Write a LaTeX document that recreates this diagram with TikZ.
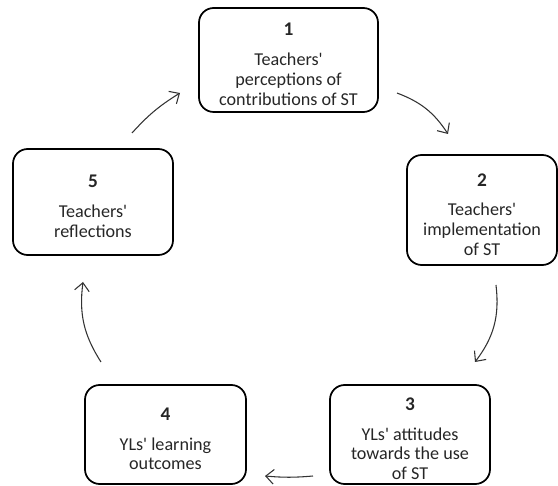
\documentclass[tikz,border=0pt]{standalone}
\usepackage{fontspec}
\setmainfont{Carlito}
\usetikzlibrary{arrows.meta}
\newcommand{\ap}{\textquotesingle}
\newcommand{\stagenum}[1]{\rule{0pt}{16pt}{\bfseries\fontsize{14.5}{15}\selectfont #1}}
\begin{document}
\begin{tikzpicture}[x=0.75pt,y=0.75pt,
  stagebox/.style={draw=black, line width=1.3pt, rounded corners=11pt, align=center,
    inner sep=0pt, text=black!85, font=\fontsize{13.6}{14.8}\selectfont},
  cyclearrow/.style={draw=black!80, line width=0.8pt, -{Straight Barb[length=6pt,width=11pt,line width=0.8pt]}}
]
\useasboundingbox (0,0) rectangle (558,486);
\node[stagebox, minimum width=134.25pt, minimum height=78pt] (s1) at (288.5,426)
  {\stagenum{1}\\[7.5pt]Teachers\ap\\perceptions of\\contributions of ST};
\node[stagebox, minimum width=112.5pt, minimum height=82.5pt] (s2) at (482,276)
  {\stagenum{2}\\[7.5pt]Teachers\ap\\implementation\\of ST};
\node[stagebox, minimum width=120pt, minimum height=74.25pt] (s3) at (410,51.5)
  {\stagenum{3}\\[7.5pt]YLs\ap{} attitudes\\towards the use\\of ST};
\node[stagebox, minimum width=120.75pt, minimum height=74.25pt] (s4) at (165.5,51.5)
  {\stagenum{4}\\[7.5pt]YLs\ap{} learning\\outcomes};
\node[stagebox, minimum width=120pt, minimum height=79.5pt] (s5) at (93,284)
  {\stagenum{5}\\[7.5pt]Teachers\ap\\reflections};
\coordinate (a12s) at (397,393); \coordinate (a12e) at (448,352);
\coordinate (a23s) at (496,201); \coordinate (a23e) at (475,124);
\coordinate (a34s) at (313,10);  \coordinate (a34e) at (265,10);
\coordinate (a45s) at (101,124); \coordinate (a45e) at (83,204);
\coordinate (a51s) at (132,353); \coordinate (a51e) at (180,393);
\draw[cyclearrow] (a12s) to[bend left=18] (a12e);
\draw[cyclearrow] (a23s) to[bend left=22] (a23e);
\draw[cyclearrow] (a34s) to[bend left=5] (a34e);
\draw[cyclearrow] (a45s) to[bend left=20] (a45e);
\draw[cyclearrow] (a51s) to[bend left=8] (a51e);
\end{tikzpicture}
\end{document}
